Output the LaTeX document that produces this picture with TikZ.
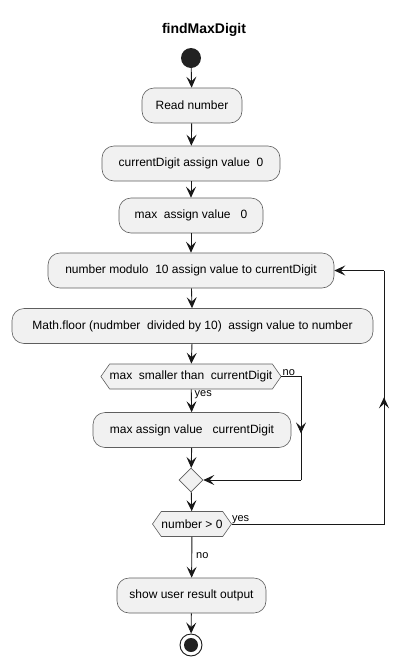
\documentclass[tikz,border=0pt]{standalone}
\usepackage{fontspec}
\setmainfont{Liberation Sans}
\usetikzlibrary{arrows.meta,shapes.symbols,shapes.geometric,calc}
\definecolor{boxfill}{HTML}{F1F1F1}
\definecolor{boxline}{HTML}{5E5E5E}
\definecolor{ink}{HTML}{181818}
\definecolor{dot}{HTML}{222222}
\tikzset{
  act/.style={draw=boxline, fill=boxfill, line width=0.6pt, rounded corners=12pt,
    minimum height=35pt, inner xsep=0pt, font=\fontsize{12}{14}\selectfont},
  hexa/.style={signal, signal to=east and west, signal pointer angle=110,
    draw=boxline, fill=boxfill, line width=0.6pt, minimum height=25pt,
    inner xsep=0pt, font=\fontsize{12}{14}\selectfont},
  mergebox/.style={diamond, draw=boxline, fill=boxfill, line width=0.6pt,
    minimum width=24pt, minimum height=24pt, inner sep=0pt},
  conn/.style={draw=ink, line width=0.9pt},
  arr/.style={conn, -{Stealth[length=11pt,width=10pt,inset=4.5pt]}},
  lbl/.style={font=\fontsize{11}{13}\selectfont, inner sep=0pt}
}
\begin{document}
\begin{tikzpicture}[x=1pt,y=-1pt]
\useasboundingbox (0,0) rectangle (409,665);
\node[font=\fontsize{14}{16}\selectfont\bfseries] (title) at (204,30) {findMaxDigit};
\node[circle, fill=dot, minimum size=20pt, inner sep=0pt] (start) at (191,58) {};
\node[act, minimum width=100pt] (read) at (192,105.5) {Read number};
\node[act, minimum width=178pt] (cur) at (191,163.5) {currentDigit assign value\ \ 0};
\node[act, minimum width=144pt] (max) at (191,215.5) {max\ \ assign value\ \ \ 0};
\node[act, minimum width=286pt] (mod) at (191,270.5) {number modulo\ \ 10 assign value to currentDigit};
\node[act, minimum width=361pt] (floor) at (192.5,326) {Math.floor (nudmber\ \ divided by 10)\ \ assign value to number};
\node[hexa, minimum width=163pt] (d1) at (191,376.5) {max\ \ smaller than\ \ currentDigit};
\node[act, minimum width=198pt] (setmax) at (192,430) {max assign value\ \ \ currentDigit};
\node[mergebox] (merge) at (191,480) {};
\node[hexa, minimum width=79pt] (d2) at (192,524) {number > 0};
\node[act, minimum width=149pt] (show) at (191.5,595.5) {show user result output};
\node[circle, draw=ink, fill=white, line width=0.9pt, minimum size=22pt, inner sep=0pt] (stop) at (191,645) {};
\node[circle, fill=dot, minimum size=14pt, inner sep=0pt] (stopdot) at (stop.center) {};

\draw[arr] (start) -- (read);
\draw[arr] (read) -- (cur);
\draw[arr] (cur) -- (max);
\draw[arr] (max) -- (mod);
\draw[arr] (mod) -- (floor);
\draw[arr] (floor) -- (d1);
\draw[arr] (d1) -- node[lbl, anchor=north west, xshift=3pt, yshift=-1pt, pos=0] {yes} (setmax);
\draw[arr] (setmax) -- (merge);
\draw[arr] (merge) -- (d2);
\draw[arr] (d2) -- node[lbl, anchor=west, xshift=4pt, pos=0.45] {no} (show);
\draw[arr] (show) -- (stop);

% no branch of first decision
\coordinate (n1) at (301,0 |- d1.east);
\coordinate (n2) at (n1 |- merge);
\coordinate (n1m) at ($(n1)!0.55!(n2)$);
\node[lbl, anchor=south west] (nolbl) at ($(d1.east)+(1,-1)$) {no};
\draw[conn] (d1.east) -- (n1) -- (n1m);
\draw[arr] (n1) -- (n1m);
\draw[conn] (n1m) -- (n2);
\draw[arr] (n2) -- (merge.east);

% loop back
\coordinate (l1) at (384,0 |- d2.east);
\coordinate (l2) at (l1 |- mod.east);
\coordinate (l1m) at ($(l1)!0.5!(l2)$);
\node[lbl, anchor=south west] (yeslbl) at ($(d2.east)+(0,-0.5)$) {yes};
\draw[conn] (d2.east) -- (l1) -- (l1m);
\draw[arr] (l1) -- (l1m);
\draw[conn] (l1m) -- (l2);
\draw[arr] (l2) -- (mod.east);
\end{tikzpicture}
\end{document}
